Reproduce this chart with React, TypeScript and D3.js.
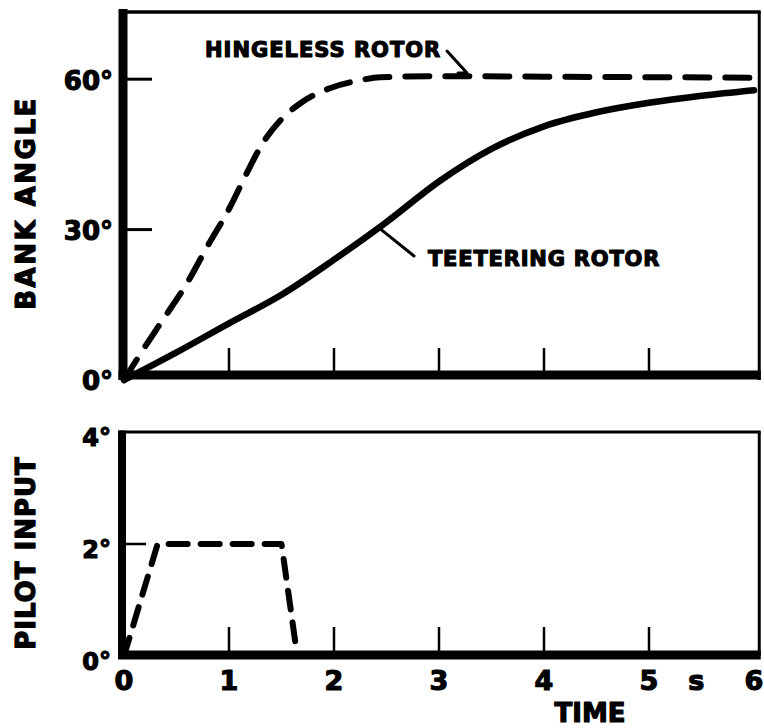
import React from "react";
import * as d3 from "d3";

// ---- data ----
const timeTicks = [0, 1, 2, 3, 4, 5, 6];
const innerTimeTicks = [1, 2, 3, 4, 5];
const bankTicks = [0, 30, 60];
const bankTickLabels = ["0°", "30°", "60°"];
const pilotTicks = [0, 2, 4];
const pilotTickLabels = ["0°", "2°", "4°"];

const hingelessT = [0, 0.18, 0.37, 0.6, 0.79, 1.01, 1.17, 1.32, 1.49, 1.68, 1.96, 2.25, 2.44, 3.0, 4.0, 5.0, 6.0];
const hingelessV = [0, 6.0, 12.0, 19.3, 26.5, 34.5, 41.3, 47.2, 51.8, 55.2, 58.2, 59.8, 60.4, 60.6, 60.5, 60.4, 60.3];

const teeteringT = [0, 0.5, 1, 1.5, 2, 2.5, 3, 3.5, 4, 4.5, 5, 5.5, 6];
const teeteringV = [0, 5.5, 11.3, 17.0, 24.0, 31.5, 39.6, 46.1, 50.6, 53.4, 55.3, 56.7, 57.8];

const pilotT = [0, 0.32, 1.5, 1.65];
const pilotV = [0, 2, 2, 0];

const FONT = "'DejaVu Sans', Arial, sans-serif";

export default function App() {
  const W = 764;
  const H = 728;
  const x = d3.scaleLinear().domain([0, 6.05]).range([124, 759.25]);
  const yTop = d3.scaleLinear().domain([0, 73.4]).range([380, 12]);
  const yBot = d3.scaleLinear().domain([0, 4]).range([656, 432]);

  const lineTop = d3
    .line<[number, number]>()
    .x((d) => x(d[0]))
    .y((d) => yTop(d[1]))
    .curve(d3.curveMonotoneX);
  const lineBot = d3
    .line<[number, number]>()
    .x((d) => x(d[0]))
    .y((d) => yBot(d[1]));

  const hinge = hingelessT.map((t, i) => [t, hingelessV[i]] as [number, number]);
  const teeter = teeteringT.map((t, i) => [t, teeteringV[i]] as [number, number]);
  const pilot = pilotT.map((t, i) => [t, pilotV[i]] as [number, number]);

  const xL = x(0);
  const xR = x(6.05);
  const topY = yTop(73.4);
  const botTopY = yBot(4);

  const txt = {
    fontFamily: FONT,
    fontWeight: 700 as const,
    fill: "#000",
    stroke: "#000",
    strokeWidth: 1.2,
    strokeLinejoin: "round" as const,
  };

  const tLead = 2.44;
  const tLeadY = yTop(30.6);

  return (
    <svg
      width={W}
      height={H}
      viewBox={`0 0 ${W} ${H}`}
      style={{ position: "absolute", left: 0, top: 0, background: "#fff" }}
    >
      <rect x={0} y={0} width={W} height={H} fill="#fff" />

      {/* ===== TOP PANEL ===== */}
      <line x1={xL - 5} x2={xR + 1.5} y1={topY} y2={topY} stroke="#000" strokeWidth={3.5} />
      <line x1={xR} x2={xR} y1={topY} y2={yTop(0)} stroke="#000" strokeWidth={3} />
      <line x1={xL - 1} x2={xL - 1} y1={topY - 3} y2={yTop(0)} stroke="#000" strokeWidth={9} />
      <line x1={xL - 5.5} x2={xR + 1.5} y1={yTop(0) - 5} y2={yTop(0) - 5} stroke="#000" strokeWidth={9} />

      {bankTicks.filter((v) => v > 0).map((v) => (
        <line key={"yt" + v} x1={xL} x2={xL + 28} y1={yTop(v)} y2={yTop(v)} stroke="#000" strokeWidth={3} />
      ))}
      {innerTimeTicks.map((t) => (
        <line key={"xt" + t} x1={x(t)} x2={x(t)} y1={yTop(0) - 8} y2={yTop(0) - 32} stroke="#000" strokeWidth={2.5} />
      ))}

      {bankTicks.map((v, i) => (
        <text key={"yl" + v} x={113} y={yTop(v) + 1} dy="0.36em" textAnchor="end" fontSize={26} style={txt}>
          {bankTickLabels[i]}
        </text>
      ))}

      <text
        transform={`translate(35,${203}) rotate(-90)`}
        textAnchor="middle"
        fontSize={26}
        letterSpacing={2.5}
        style={txt}
      >
        BANK ANGLE
      </text>

      <path
        d={lineTop(hinge) || ""}
        fill="none"
        stroke="#000"
        strokeWidth={6}
        strokeDasharray="24 16"
        strokeLinecap="round"
      />
      <path d={lineTop(teeter) || ""} fill="none" stroke="#000" strokeWidth={6.5} strokeLinecap="round" />

      <text x={205} y={57} fontSize={21} letterSpacing={1} style={txt}>
        HINGELESS ROTOR
      </text>
      <polyline points={`447,51 467,73 458,73`} fill="none" stroke="#000" strokeWidth={3} strokeLinecap="round" strokeLinejoin="round" />

      <text x={428} y={266} fontSize={21} letterSpacing={0.8} style={txt}>
        TEETERING ROTOR
      </text>
      <line x1={x(tLead) + 1} y1={tLeadY + 3} x2={414} y2={256} stroke="#000" strokeWidth={3} strokeLinecap="round" />

      {/* ===== BOTTOM PANEL ===== */}
      <line x1={xL - 5} x2={xR + 1.5} y1={botTopY} y2={botTopY} stroke="#000" strokeWidth={3} />
      <line x1={xR} x2={xR} y1={botTopY} y2={yBot(0)} stroke="#000" strokeWidth={3} />
      <line x1={xL - 2} x2={xL - 2} y1={botTopY - 1.5} y2={yBot(0)} stroke="#000" strokeWidth={8} />
      <line x1={xL - 6} x2={xR + 1.5} y1={yBot(0) - 1} y2={yBot(0) - 1} stroke="#000" strokeWidth={9} />

      {pilotTicks.filter((v) => v > 0 && v < 4).map((v) => (
        <line key={"pt" + v} x1={xL} x2={xL + 22} y1={yBot(v)} y2={yBot(v)} stroke="#000" strokeWidth={2.5} />
      ))}
      {innerTimeTicks.map((t) => (
        <line key={"bxt" + t} x1={x(t)} x2={x(t)} y1={yBot(0) - 5} y2={yBot(0) - 29} stroke="#000" strokeWidth={2.5} />
      ))}

      {pilotTicks.map((v, i) => (
        <text key={"pl" + v} x={111} y={yBot(v) + 5} dy="0.36em" textAnchor="end" fontSize={24} style={txt}>
          {pilotTickLabels[i]}
        </text>
      ))}

      <text
        transform={`translate(35,${553}) rotate(-90)`}
        textAnchor="middle"
        fontSize={26}
        letterSpacing={1}
        style={txt}
      >
        PILOT INPUT
      </text>

      <path
        d={lineBot(pilot) || ""}
        fill="none"
        stroke="#000"
        strokeWidth={6}
        strokeDasharray="19 13"
        strokeLinecap="round"
        strokeLinejoin="round"
      />

      {timeTicks.map((t) => (
        <text key={"xl" + t} x={x(t)} y={680} dy="0.36em" textAnchor="middle" fontSize={27} style={txt}>
          {String(t)}
        </text>
      ))}
      <text x={x(5.45)} y={680} dy="0.36em" textAnchor="middle" fontSize={27} style={txt}>
        s
      </text>
      <text x={590} y={713} dy="0.36em" textAnchor="middle" fontSize={26} style={txt}>
        TIME
      </text>
    </svg>
  );
}
